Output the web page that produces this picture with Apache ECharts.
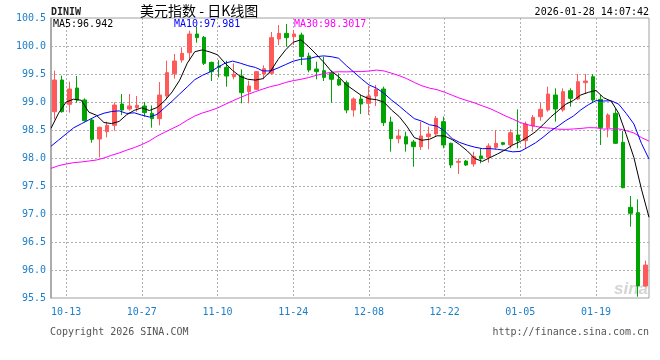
<!DOCTYPE html>
<html><head><meta charset="utf-8">
<script src="https://cdn.jsdelivr.net/npm/echarts@6/dist/echarts.min.js"></script>
<style>html,body{margin:0;padding:0;background:#fff}#c{width:660px;height:360px}</style>
</head><body><div id="c"></div>
<script>
const dates = ['10-09','10-10','10-13','10-14','10-15','10-16','10-17','10-20','10-21','10-22','10-23','10-24','10-27','10-28','10-29','10-30','10-31',
'11-03','11-04','11-05','11-06','11-07','11-10','11-11','11-12','11-13','11-14','11-17','11-18','11-19','11-20','11-21','11-24','11-25','11-26','11-27','11-28',
'12-01','12-02','12-03','12-04','12-05','12-08','12-09','12-10','12-11','12-12','12-15','12-16','12-17','12-18','12-19','12-22','12-23','12-24','12-25','12-26','12-29','12-30','12-31',
'01-01','01-02','01-05','01-06','01-07','01-08','01-09','01-12','01-13','01-14','01-15','01-16','01-19','01-20','01-21','01-22','01-23','01-26','01-27','01-28'];

const opens = [98.827,99.393,98.958,99.25,99.036,98.679,98.339,98.47,98.583,98.964,98.875,98.899,98.929,98.798,98.702,99.107,99.506,99.75,99.881,100.214,
100.155,99.708,99.643,99.619,99.452,99.464,99.185,99.226,99.5,99.512,100.125,100.226,100.167,100.196,99.821,99.589,99.56,99.512,99.405,99.345,
98.857,99.054,98.976,99.107,99.232,98.643,98.345,98.381,98.286,98.202,98.381,98.429,98.649,98.262,97.923,97.946,97.893,98.036,98.012,98.19,
98.274,98.232,98.411,98.31,98.571,98.738,98.857,99.125,98.857,99.202,99.054,99.345,99.452,99.048,98.542,98.798,98.28,97.119,97.024,95.714];
const closes = [99.393,98.827,99.232,99.036,98.667,98.333,98.548,98.583,98.946,98.857,98.929,98.94,98.81,98.702,99.125,99.524,99.732,99.869,100.214,100.149,
99.69,99.542,99.619,99.464,99.494,99.167,99.286,99.542,99.595,100.149,100.226,100.149,100.214,99.81,99.571,99.542,99.44,99.405,99.304,98.857,
99.054,98.964,99.107,99.226,98.631,98.345,98.393,98.25,98.202,98.393,98.429,98.708,98.232,97.875,97.94,97.875,98.024,97.988,98.214,98.262,
98.244,98.452,98.31,98.607,98.726,98.869,99.143,98.875,99.185,99.065,99.363,99.375,99.036,98.542,98.768,98.262,97.47,97.012,95.714,96.089];
const lows = [98.69,98.81,98.81,98.988,98.649,98.274,98.012,98.369,98.488,98.768,98.845,98.827,98.738,98.542,98.583,99.048,99.417,99.702,99.738,100.06,
99.66,99.375,99.44,99.274,99.405,98.976,98.976,99.214,99.405,99.482,100.018,99.988,100.018,99.66,99.53,99.405,99.375,98.988,99.286,98.798,
98.738,98.786,98.768,98.929,98.571,98.113,98.262,98.113,97.845,98.143,98.155,98.381,98.173,97.821,97.714,97.857,97.845,97.905,97.917,98.155,
98.226,98.173,98.173,98.173,98.47,98.667,98.827,98.649,98.827,98.917,99.036,99.143,98.988,98.232,98.369,98.25,97.46,96.774,95.524,95.702];
const highs = [99.56,99.47,99.363,99.464,99.065,98.70,98.56,98.649,98.994,99.143,99.143,99.107,99.0,98.94,99.357,99.738,99.857,99.976,100.274,100.345,
100.179,99.72,99.75,99.738,99.69,99.583,99.381,99.554,99.655,100.25,100.375,100.393,100.286,100.238,99.881,99.72,99.81,99.56,99.512,99.381,
99.083,99.125,99.286,99.304,99.274,98.738,98.512,98.47,98.321,98.649,98.56,98.75,98.738,98.274,97.994,97.964,98.113,98.173,98.262,98.5,
98.286,98.512,98.869,98.649,98.768,98.988,99.274,99.244,99.244,99.244,99.5,99.5,99.5,99.125,98.798,98.887,98.482,97.321,97.262,96.167];

const ma5 = [98.53,98.80,99.00,99.05,99.031,98.819,98.763,98.633,98.615,98.653,98.773,98.851,98.896,98.848,98.901,99.02,99.179,99.39,99.693,99.898,
99.931,99.893,99.843,99.693,99.562,99.457,99.406,99.391,99.417,99.548,99.76,99.932,100.067,100.11,99.994,99.857,99.715,99.554,99.452,99.31,
99.212,99.117,99.057,99.042,98.996,98.855,98.74,98.569,98.364,98.317,98.334,98.397,98.393,98.328,98.237,98.126,97.989,97.94,98.008,98.073,
98.146,98.232,98.296,98.375,98.468,98.593,98.731,98.844,98.96,99.027,99.126,99.173,99.205,99.076,99.017,98.797,98.416,98.011,97.445,96.942];
const ma10 = [98.21,98.32,98.43,98.54,98.61,98.68,98.75,98.80,98.83,98.842,98.796,98.807,98.765,98.732,98.777,98.896,99.015,99.143,99.27,99.399,
99.476,99.536,99.617,99.693,99.73,99.694,99.649,99.617,99.555,99.555,99.608,99.669,99.729,99.763,99.771,99.808,99.824,99.81,99.781,99.652,
99.535,99.416,99.305,99.247,99.153,99.033,98.929,98.813,98.703,98.657,98.594,98.569,98.481,98.346,98.277,98.23,98.193,98.167,98.168,98.155,
98.136,98.11,98.118,98.192,98.27,98.37,98.482,98.57,98.667,98.748,98.86,98.952,99.024,99.018,99.022,98.961,98.794,98.608,98.261,97.981];
const ma30 = [97.815,97.863,97.893,97.917,97.929,97.946,97.964,98.0,98.048,98.09,98.14,98.185,98.24,98.304,98.39,98.458,98.524,98.59,98.675,98.75,
98.804,98.845,98.893,98.958,99.02,99.08,99.135,99.185,99.232,99.275,99.305,99.349,99.381,99.405,99.435,99.475,99.505,99.53,99.54,99.538,
99.542,99.543,99.553,99.57,99.554,99.514,99.47,99.416,99.349,99.29,99.248,99.22,99.174,99.121,99.067,99.024,98.982,98.93,98.882,98.819,
98.753,98.696,98.633,98.593,98.565,98.542,98.532,98.515,98.511,98.518,98.528,98.542,98.539,98.517,98.521,98.519,98.488,98.447,98.365,98.3017];

const labelIdx = [2,12,22,32,42,52,62,72];
const titleText = '美元指数 - 日K线图';
const codeText = 'DINIW';
const timeText = '2026-01-28 14:07:42';
const legendTexts = ['MA5:96.942','MA10:97.981','MA30:98.3017'];
const footLeft = 'Copyright 2026 SINA.COM';
const footRight = 'http://finance.sina.com.cn';

const MONO = '"DejaVu Sans Mono", "Liberation Mono", monospace';
const BLUE_LABEL = '#1a7fc8';
const RED = '#ff5a5a', GREEN = '#00a400';

const candleData = opens.map((o, i) => [o, closes[i], lows[i], highs[i]]);
const showIdx = (i) => labelIdx.indexOf(i) >= 0;

const chart = echarts.init(document.getElementById('c'), null, {renderer: 'canvas'});
chart.setOption({
  animation: false,
  backgroundColor: '#fff',
  grid: {left: 51, right: 11, top: 18, bottom: 62, show: true, borderColor: '#a0a0a0', borderWidth: 1, backgroundColor: 'transparent'},
  xAxis: [
    {type: 'category', data: dates, boundaryGap: true, gridIndex: 0,
     axisLine: {show: false}, axisTick: {show: false}, axisLabel: {show: false}, splitLine: {show: false}},
    {type: 'category', data: dates, boundaryGap: false, gridIndex: 0, position: 'bottom',
     axisLine: {show: false}, axisTick: {show: false},
     axisLabel: {interval: (i) => showIdx(i), color: BLUE_LABEL, fontFamily: MONO, fontSize: 10, margin: 9},
     splitLine: {show: true, interval: (i) => showIdx(i), lineStyle: {color: '#b0b0b0', type: [2, 2], width: 1}}}
  ],
  yAxis: {type: 'value', min: 95.5, max: 100.5, interval: 0.5, scale: true,
    axisLine: {show: true, lineStyle: {color: '#a0a0a0', width: 1.5}},
    axisTick: {show: false},
    axisLabel: {formatter: (v) => v.toFixed(1), color: BLUE_LABEL, fontFamily: MONO, fontSize: 10, margin: 5},
    splitLine: {show: true, showMinLine: false, showMaxLine: false, lineStyle: {color: '#b0b0b0', type: [2, 2], width: 1}}
  },
  series: [
    {type: 'candlestick', xAxisIndex: 0, data: candleData, barWidth: 4, z: 2,
     itemStyle: {color: RED, color0: GREEN, borderColor: RED, borderColor0: GREEN, borderWidth: 1}},
    {type: 'line', xAxisIndex: 1, data: ma30, showSymbol: false, symbol: 'none', z: 3,
     lineStyle: {color: '#ff00ff', width: 1}},
    {type: 'line', xAxisIndex: 1, data: ma10, showSymbol: false, symbol: 'none', z: 4,
     lineStyle: {color: '#0000ff', width: 1}},
    {type: 'line', xAxisIndex: 1, data: ma5, showSymbol: false, symbol: 'none', z: 5,
     lineStyle: {color: '#000000', width: 1}}
  ],
  graphic: [
    {type: 'text', x: 51, y: 12, style: {text: codeText, font: 'bold 10px ' + MONO, fill: '#222', align: 'left', verticalAlign: 'middle'}},
    {type: 'text', x: 140, y: 11, style: {text: titleText, font: '14px "Noto Sans CJK SC"', fill: '#000', align: 'left', verticalAlign: 'middle'}},
    {type: 'text', x: 649, y: 12, style: {text: timeText, font: '10px ' + MONO, fill: '#000', align: 'right', verticalAlign: 'middle'}},
    {type: 'text', x: 53, y: 24, z: 10, style: {text: legendTexts[0], font: '10px ' + MONO, fill: '#000', align: 'left', verticalAlign: 'middle'}},
    {type: 'text', x: 174, y: 24, z: 10, style: {text: legendTexts[1], font: '10px ' + MONO, fill: '#0000ff', align: 'left', verticalAlign: 'middle'}},
    {type: 'text', x: 294, y: 24, z: 10, style: {text: legendTexts[2], font: '10px ' + MONO, fill: '#ff00ff', align: 'left', verticalAlign: 'middle'}},
    {type: 'text', x: 50, y: 332, style: {text: footLeft, font: '10px ' + MONO, fill: '#555', align: 'left', verticalAlign: 'middle'}},
    {type: 'text', x: 649, y: 332, style: {text: footRight, font: '10px ' + MONO, fill: '#555', align: 'right', verticalAlign: 'middle'}},
    {type: 'text', x: 648, y: 289, z: 1, style: {text: 'sina', font: 'italic bold 17px "Liberation Sans", Arial', fill: '#d4d4d4', align: 'right', verticalAlign: 'middle'}}
  ]
});
</script>
</body></html>
